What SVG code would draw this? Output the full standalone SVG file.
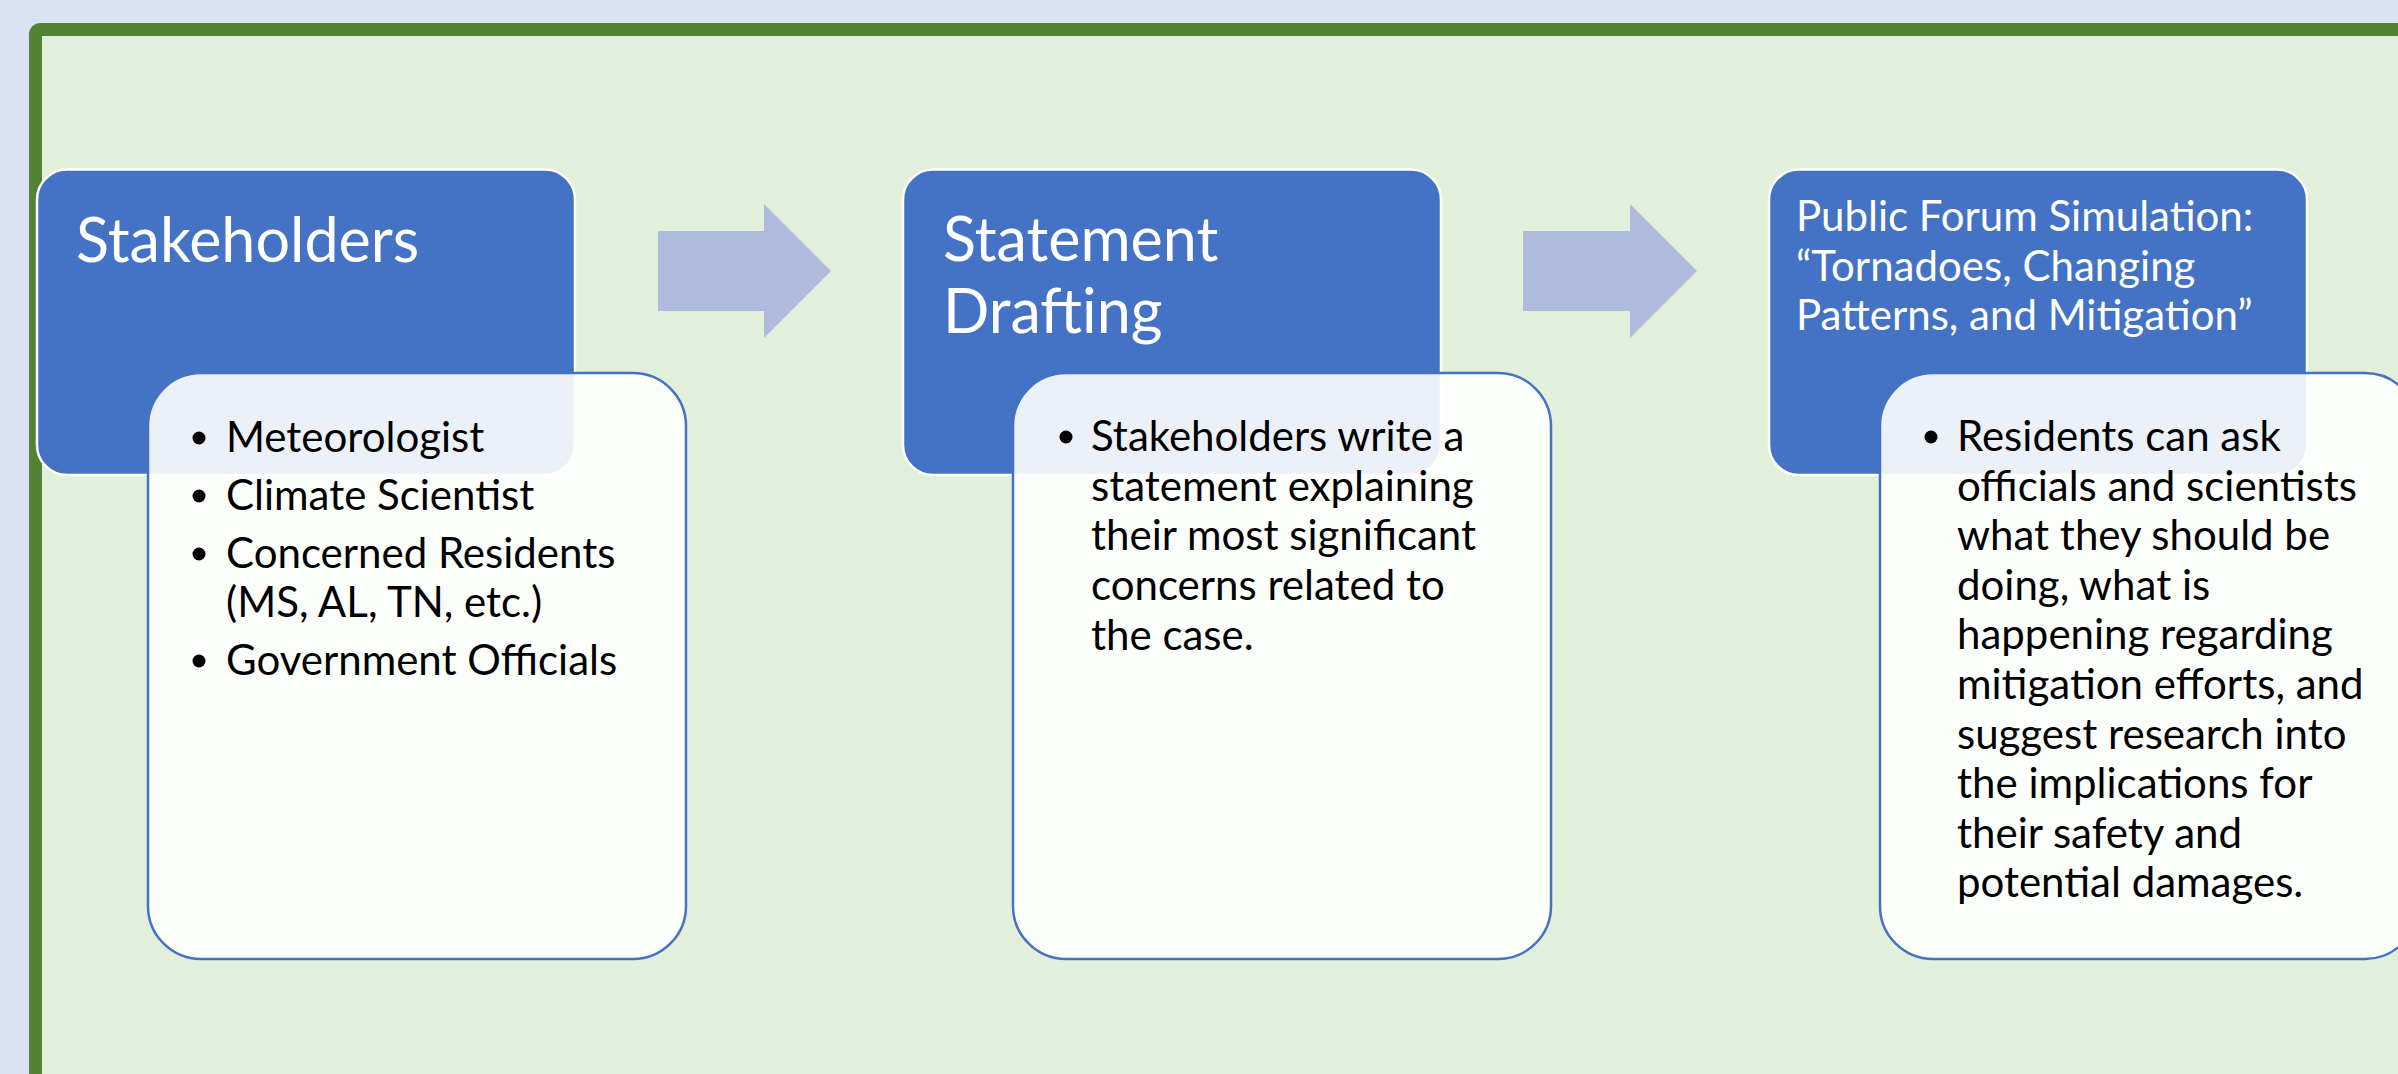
<svg xmlns="http://www.w3.org/2000/svg" width="2398" height="1074" viewBox="0 0 2398 1074">
  <style>
    .hdr { fill: #4472C4; stroke: #FFFFFF; stroke-width: 2.5; }
    .child { fill: #FFFFFF; fill-opacity: 0.9; stroke: #4472C4; stroke-width: 2.5; }
    .ttl { font-family: Lato, "Liberation Sans", sans-serif; fill: #FFFFFF; }
    .big { font-size: 61px; }
    .mid { font-size: 42px; }
    .body { font-family: Lato, "Liberation Sans", sans-serif; font-size: 42px; fill: #000000; }
    .bul { fill: #000000; }
    .arrow { fill: #AFBBDD; }
  </style>
  <rect x="0" y="0" width="2398" height="1074" fill="#DAE3F3"/>
  <rect x="35.5" y="29.5" width="2500" height="1200" rx="5" fill="#E2EFDA" stroke="#548235" stroke-width="13"/>

  <g id="connectors">
    <polygon class="arrow" points="658,231 764,231 764,204 831,271 764,338 764,311 658,311"/>
    <polygon class="arrow" points="1523,231 1630,231 1630,204 1697,271 1630,338 1630,311 1523,311"/>
  </g>

  <g id="node-stakeholders">
    <rect class="hdr" x="37" y="169.5" width="538" height="305.5" rx="30"/>
    <text class="ttl big" x="76" y="262">Stakeholders</text>
    <rect class="child" x="148" y="373" width="538" height="586" rx="53"/>
    <circle class="bul" cx="199" cy="438" r="6.5"/>
    <text class="body" x="226" y="452">Meteorologist</text>
    <circle class="bul" cx="199" cy="496" r="6.5"/>
    <text class="body" x="226" y="510">Climate Scientist</text>
    <circle class="bul" cx="199" cy="554" r="6.5"/>
    <text class="body" x="226" y="568">Concerned Residents</text>
    <text class="body" x="226" y="617">(MS, AL, TN, etc.)</text>
    <circle class="bul" cx="199" cy="661" r="6.5"/>
    <text class="body" x="226" y="675">Government Officials</text>
  </g>

  <g id="node-statement">
    <rect class="hdr" x="903" y="169.5" width="538" height="305.5" rx="30"/>
    <text class="ttl big" x="943" y="261">Statement</text>
    <text class="ttl big" x="943" y="333">Drafting</text>
    <rect class="child" x="1013" y="373" width="538" height="586" rx="53"/>
    <circle class="bul" cx="1066" cy="437" r="6.5"/>
    <text class="body" x="1091" y="451">Stakeholders write a</text>
    <text class="body" x="1091" y="501">statement explaining</text>
    <text class="body" x="1091" y="550">their most significant</text>
    <text class="body" x="1091" y="600">concerns related to</text>
    <text class="body" x="1091" y="650">the case.</text>
  </g>

  <g id="node-forum">
    <rect class="hdr" x="1769" y="169.5" width="538" height="305.5" rx="30"/>
    <text class="ttl mid" x="1796" y="231">Public Forum Simulation:</text>
    <text class="ttl mid" x="1796" y="280.5">“Tornadoes, Changing</text>
    <text class="ttl mid" x="1796" y="330">Patterns, and Mitigation”</text>
    <rect class="child" x="1880" y="373" width="538" height="586" rx="53"/>
    <circle class="bul" cx="1931" cy="437" r="6.5"/>
    <text class="body" x="1957" y="451">Residents can ask</text>
    <text class="body" x="1957" y="500.6">officials and scientists</text>
    <text class="body" x="1957" y="550.2">what they should be</text>
    <text class="body" x="1957" y="599.8">doing, what is</text>
    <text class="body" x="1957" y="649.4">happening regarding</text>
    <text class="body" x="1957" y="699">mitigation efforts, and</text>
    <text class="body" x="1957" y="748.6">suggest research into</text>
    <text class="body" x="1957" y="798.2">the implications for</text>
    <text class="body" x="1957" y="847.8">their safety and</text>
    <text class="body" x="1957" y="897.4">potential damages.</text>
  </g>
</svg>
